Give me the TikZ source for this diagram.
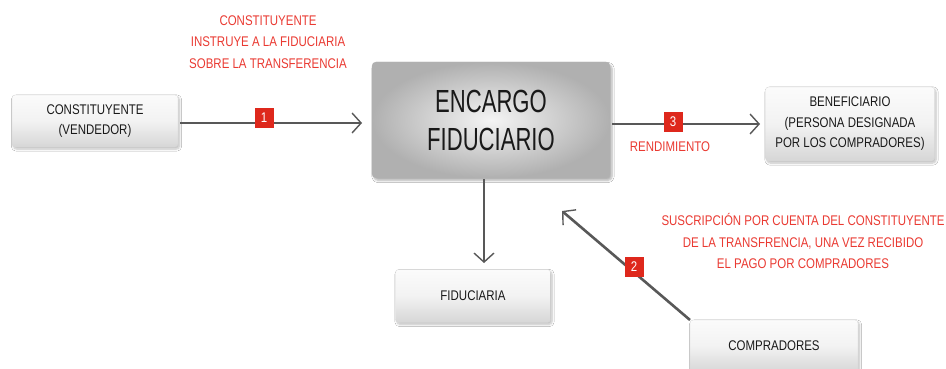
\documentclass[tikz,border=0pt]{standalone}
\usepackage{fontspec}
\setmainfont{Liberation Sans}[FakeStretch=0.82]
\newfontfamily\bigcond{Liberation Sans}[FakeStretch=0.69]
\usetikzlibrary{arrows.meta,shadows.blur}
\definecolor{txtred}{RGB}{234,58,50}
\definecolor{badgered}{RGB}{222,40,28}
\definecolor{arrgray}{RGB}{88,88,88}
\definecolor{boxedge}{RGB}{215,215,215}
\tikzset{
  lightbox/.style={rectangle, rounded corners=3pt, draw=boxedge, line width=0.3pt, top color=white!97!gray, bottom color=gray!32, middle color=white!90!gray,
    blur shadow={shadow xshift=1.5pt, shadow yshift=-2pt, shadow blur steps=6, shadow opacity=25},
    align=center, font=\fontsize{14}{20.5}\selectfont, text=black!90, inner sep=0pt},
  bigbox/.style={rectangle, rounded corners=4pt, draw=gray!60, line width=0.3pt, inner color=white!92!gray, outer color=gray!62,
    blur shadow={shadow xshift=2pt, shadow yshift=-2.5pt, shadow blur steps=6, shadow opacity=30},
    align=center, font=\bigcond\fontsize{32}{38}\selectfont, text=black!90, inner sep=0pt},
  flow/.style={draw=arrgray, line width=2.6pt, -{Straight Barb[length=9pt,width=20pt,line width=1.4pt]}},
  badge/.style={rectangle, fill=badgered, text=white, minimum width=19pt, minimum height=20pt, inner sep=0pt, font=\fontsize{14}{16}\selectfont},
  redlabel/.style={text=txtred, align=center, font=\fontsize{14}{21.5}\selectfont, inner sep=0pt}
}
\begin{document}
\begin{tikzpicture}[x=1pt,y=-1pt]
\useasboundingbox[fill=white] (0,0) rectangle (946,369);

\node[lightbox, minimum width=166pt, minimum height=52pt] (vend) at (95,121) {CONSTITUYENTE\\(VENDEDOR)};
\node[bigbox, minimum width=238pt, minimum height=116pt] (enc) at (491,120) {ENCARGO\\FIDUCIARIO};
\node[lightbox, minimum width=169pt, minimum height=74pt] (ben) at (850,124) {BENEFICIARIO\\(PERSONA DESIGNADA\\POR LOS COMPRADORES)};
\node[lightbox, minimum width=155pt, minimum height=53pt] (fid) at (473,296) {FIDUCIARIA};
\node[lightbox, minimum width=168pt, minimum height=52pt] (comp) at (774,346) {COMPRADORES};

\coordinate (a1s) at (180,123);
\coordinate (a1e) at (362,123);
\coordinate (a3s) at (612,124);
\coordinate (a3e) at (760,124);
\coordinate (ads) at (484,179);
\coordinate (ade) at (484,263);
\coordinate (a2s) at (690,320);
\coordinate (a2e) at (562,211);

\draw[flow] (a1s) -- (a1e);
\draw[flow] (a3s) -- (a3e);
\draw[flow, line width=2pt] (ads) -- (ade);
\draw[flow] (a2s) -- (a2e);

\node[badge] (b1) at (264,118) {1};
\node[badge] (b3) at (673,122) {3};
\node[badge] (b2) at (634,267) {2};

\node[redlabel] (l1) at (268,42) {CONSTITUYENTE\\INSTRUYE A LA FIDUCIARIA\\SOBRE LA TRANSFERENCIA};
\node[redlabel] (l3) at (670,147) {RENDIMIENTO};
\node[redlabel] (l2) at (803,241) {SUSCRIPCIÓN POR CUENTA DEL CONSTITUYENTE\\DE LA TRANSFRENCIA, UNA VEZ RECIBIDO\\EL PAGO POR COMPRADORES};
\end{tikzpicture}
\end{document}
